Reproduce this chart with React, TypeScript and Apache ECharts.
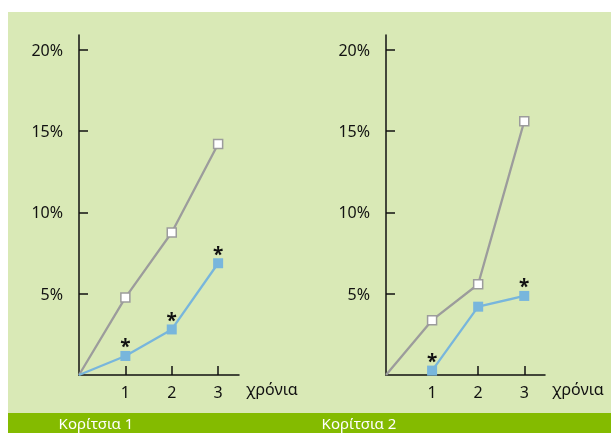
import React, { useEffect, useRef } from "react";
import * as echarts from "echarts";

const years = [1, 2, 3];
const yTicks = [5, 10, 15, 20];
const panelTitles = ["Κορίτσια 1", "Κορίτσια 2"];
const xName = "χρόνια";

const girls1Gray = [4.76, 8.76, 14.2];
const girls1Blue = [1.17, 2.8, 6.87];
const girls1Star = [true, true, true];

const girls2Gray = [3.37, 5.58, 15.6];
const girls2Blue = [0.27, 4.2, 4.86];
const girls2Star = [true, false, true];

const FONT = "Noto Sans";
const GRAY = "#9c9c9c";
const BLUE = "#78b6dc";
const INK = "#111111";

export default function App() {
  const ref = useRef<HTMLDivElement>(null);
  useEffect(() => {
    if (!ref.current) return;
    const chart = echarts.init(ref.current, null, { renderer: "svg" });

    const grids = [
      { left: 79, top: 35, width: 160, height: 340 },
      { left: 386, top: 35, width: 159, height: 340 },
    ];

    const mkX = (i: number) => ({
      type: "value",
      gridIndex: i,
      min: 0,
      max: 3.45,
      axisLine: { show: true, onZero: false, lineStyle: { color: INK, width: 1.5 } },
      axisTick: { show: true, inside: true, length: 9, customValues: years, lineStyle: { color: INK, width: 1.5 } },
      axisLabel: { show: true, customValues: years, margin: 9, color: INK, fontFamily: FONT, fontSize: 16 },
      splitLine: { show: false },
      name: xName,
      nameLocation: "end",
      nameGap: 7,
      nameTextStyle: { color: INK, fontFamily: FONT, fontSize: 16, verticalAlign: "top", padding: [6, 0, 0, 0] },
    });
    const mkY = (i: number) => ({
      type: "value",
      gridIndex: i,
      min: 0,
      max: 20.9,
      axisLine: { show: true, lineStyle: { color: INK, width: 1.5 } },
      axisTick: { show: true, inside: true, length: 9, customValues: yTicks, lineStyle: { color: INK, width: 1.5 } },
      axisLabel: { show: true, customValues: yTicks, margin: 16, formatter: (v: number) => v + "%", color: INK, fontFamily: FONT, fontSize: 16 },
      splitLine: { show: false },
    });

    const grayData = (vals: number[]) => [
      { value: [0, 0], symbol: "none" },
      ...vals.map((v, k) => ({ value: [years[k], v] })),
    ];
    const blueData = (vals: number[], stars: boolean[], withOrigin: boolean) => [
      ...(withOrigin ? [{ value: [0, 0], symbol: "none", label: { show: false } }] : []),
      ...vals.map((v, k) => ({ value: [years[k], v], label: { show: stars[k] } })),
    ];

    const graySeries = (i: number, vals: number[]) => ({
      type: "line",
      xAxisIndex: i,
      yAxisIndex: i,
      data: grayData(vals),
      symbol: "rect",
      symbolSize: 9,
      lineStyle: { color: GRAY, width: 2.3 },
      itemStyle: { color: "#ffffff", borderColor: GRAY, borderWidth: 1.5 },
      z: 3,
    });
    const blueSeries = (i: number, vals: number[], stars: boolean[], withOrigin: boolean) => ({
      type: "line",
      xAxisIndex: i,
      yAxisIndex: i,
      data: blueData(vals, stars, withOrigin),
      symbol: "rect",
      symbolSize: 10,
      lineStyle: { color: BLUE, width: 2.3 },
      itemStyle: { color: BLUE },
      label: { position: "top", distance: 0, offset: [0, 5], formatter: "*", color: INK, fontFamily: FONT, fontWeight: "bold", fontSize: 19 },
      z: 4,
    });

    chart.setOption({
      animation: false,
      graphic: [
        { type: "rect", shape: { x: 8, y: 12, width: 603, height: 401 }, style: { fill: "#d9e9b6" }, z: -10 },
        { type: "rect", shape: { x: 8, y: 413, width: 603, height: 20 }, style: { fill: "#84bb00" }, z: -10 },
        { type: "text", x: 96, y: 423, style: { text: panelTitles[0], fill: "#ffffff", font: `15px "${FONT}"`, textAlign: "center", textVerticalAlign: "middle" }, z: -5 },
        { type: "text", x: 359, y: 423, style: { text: panelTitles[1], fill: "#ffffff", font: `15px "${FONT}"`, textAlign: "center", textVerticalAlign: "middle" }, z: -5 },
      ],
      grid: grids,
      xAxis: [mkX(0), mkX(1)],
      yAxis: [mkY(0), mkY(1)],
      series: [
        graySeries(0, girls1Gray),
        blueSeries(0, girls1Blue, girls1Star, true),
        graySeries(1, girls2Gray),
        blueSeries(1, girls2Blue, girls2Star, false),
      ],
    });
    return () => chart.dispose();
  }, []);
  return <div ref={ref} style={{ position: "fixed", left: 0, top: 0, width: 611, height: 433 }} />;
}
